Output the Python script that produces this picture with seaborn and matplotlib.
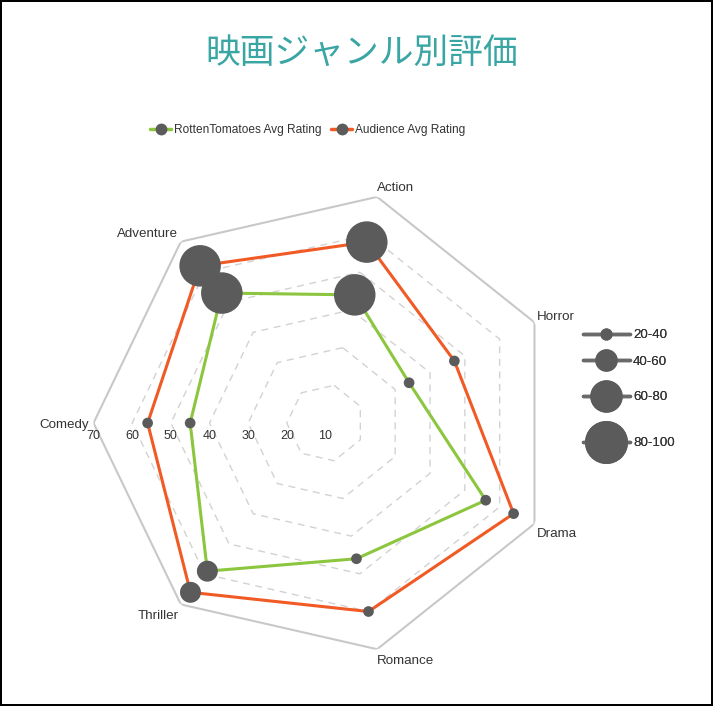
import numpy as np
import pandas as pd
import matplotlib
matplotlib.use("Agg")
import matplotlib.pyplot as plt
from matplotlib.lines import Line2D
import seaborn as sns

# data
genres = ["Action", "Horror", "Drama", "Romance", "Thriller", "Comedy", "Adventure"]
rt_rating = [44, 34, 56, 46, 59, 45, 53]
audience_rating = [58, 47, 64, 60, 66, 56, 62]
rt_size_bin = ["80-100", "20-40", "20-40", "20-40", "40-60", "20-40", "80-100"]
audience_size_bin = ["80-100", "20-40", "20-40", "20-40", "40-60", "20-40", "80-100"]
size_bins = ["20-40", "40-60", "60-80", "80-100"]
ring_values = [20, 30, 40, 50, 60]
outer_value = 70
tick_values = [70, 60, 50, 40, 30, 20, 10]
series_names = ["RottenTomatoes Avg Rating", "Audience Avg Rating"]

sns.set_theme(style="white")
plt.rcParams["font.family"] = ["Liberation Sans", "DejaVu Sans"]

green = "#8cc63e"
orange = "#f15a24"
dot = "#5b5b5b"
text_col = "#333333"
marker_diam = {"20-40": 7.7, "40-60": 15.1, "60-80": 22.3, "80-100": 29.9}
marker_area = {k: v ** 2 for k, v in marker_diam.items()}

n = len(genres)
theta = np.arange(n) * 2 * np.pi / n
theta_closed = np.append(theta, theta[0])

df = pd.DataFrame({
    "theta": np.concatenate([theta, theta]),
    "rating": rt_rating + audience_rating,
    "size_bin": rt_size_bin + audience_size_bin,
    "series": [series_names[0]] * n + [series_names[1]] * n,
})

fig = plt.figure(figsize=(7.13, 7.06), dpi=100, facecolor="white",
                 edgecolor="black", linewidth=1.5)
ax = fig.add_axes([0.1311, 0.0722, 0.6508, 0.6572], projection="polar")
ax.set_theta_offset(3 * np.pi / 7)
ax.set_theta_direction(-1)
ax.set_ylim(10, outer_value)
ax.grid(False)
ax.spines["polar"].set_visible(False)
ax.set_xticks([])
ax.set_yticks([])
ax.patch.set_alpha(0)

# heptagon grid
for v in ring_values:
    ax.plot(theta_closed, [v] * (n + 1), color="#d2d2d2", lw=1, ls=(0, (5, 4)), zorder=1)
ax.plot(theta_closed, [outer_value] * (n + 1), color="#c8c8c8", lw=1.5, zorder=1)

# series lines
ax.plot(theta_closed, rt_rating + rt_rating[:1], color=green, lw=2.2, zorder=2)
ax.plot(theta_closed, audience_rating + audience_rating[:1], color=orange, lw=2.2, zorder=2)

# bubbles
sns.scatterplot(data=df, x="theta", y="rating", size="size_bin", sizes=marker_area,
                size_order=size_bins, color=dot, edgecolor="none", linewidth=0,
                legend=False, ax=ax, zorder=3, clip_on=False)
ax.set_xlabel("")
ax.set_ylabel("")

# radial tick labels along the Comedy axis
comedy_theta = theta[genres.index("Comedy")]
for v in tick_values:
    ax.annotate(str(v), xy=(comedy_theta, v), xytext=(0, -13), textcoords="offset pixels",
                ha="center", va="center", fontsize=9, color=text_col)

# category labels
label_pos = {
    "Action": ((0, 3), "left", "bottom"),
    "Horror": ((2, -1), "left", "bottom"),
    "Drama": ((2, -4), "left", "top"),
    "Romance": ((0, -6), "left", "top"),
    "Thriller": ((-2, -6), "right", "top"),
    "Comedy": ((-4, -2), "right", "center"),
    "Adventure": ((-3, 2), "right", "bottom"),
}
for g, t in zip(genres, theta):
    off, ha, va = label_pos[g]
    ax.annotate(g, xy=(t, outer_value), xytext=off, textcoords="offset pixels",
                ha=ha, va=va, fontsize=9.6, color=text_col, annotation_clip=False)

# title
fig.text(0.507, 1 - 53 / 706, "映画ジャンル別評価", ha="center", va="center",
         fontsize=25, color="#3aa6a4", family=["Noto Sans CJK JP", "DejaVu Sans"])

# series legend
series_handles = [
    Line2D([0], [0], color=green, lw=2.5, marker="o", markersize=7.5,
           markerfacecolor=dot, markeredgecolor=dot),
    Line2D([0], [0], color=orange, lw=2.5, marker="o", markersize=7.5,
           markerfacecolor=dot, markeredgecolor=dot),
]
fig.legend(handles=series_handles, labels=series_names, loc="center",
           bbox_to_anchor=(0.432, 1 - 130 / 706), ncol=2, frameon=False,
           fontsize=8.6, handlelength=1.7, handletextpad=0.3, columnspacing=0.8,
           borderpad=0, labelcolor=text_col)

# bubble size legend
size_legend_y = [335, 362, 397, 443]
for b, y in zip(size_bins, size_legend_y):
    h = Line2D([0], [0], color="#6a6a6a", lw=2.5, marker="o", markersize=marker_diam[b],
               markerfacecolor=dot, markeredgecolor=dot)
    leg = fig.legend(handles=[h], labels=[b], loc="center left",
                     bbox_to_anchor=(583 / 713, 1 - y / 706), frameon=False,
                     fontsize=9.6, handlelength=3.5, handletextpad=0.25,
                     borderpad=0, borderaxespad=0, labelcolor=text_col)
    fig.add_artist(leg)

fig.savefig("out.png", dpi=100)
